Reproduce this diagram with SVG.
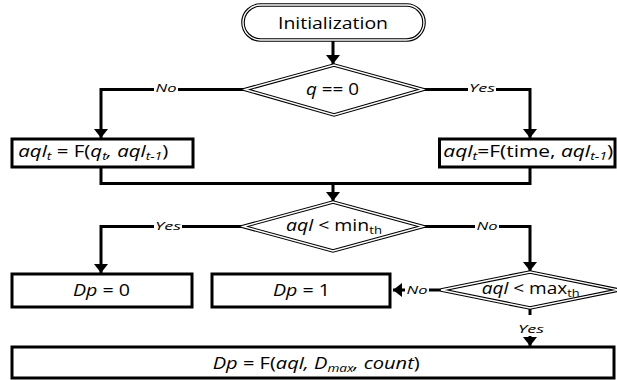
<svg xmlns="http://www.w3.org/2000/svg" width="617" height="380" viewBox="0 0 617 380">
<style>
.t{font-family:"Open Sans","DejaVu Sans",sans-serif;font-size:15.5px;fill:#000}
.lb{font-family:"Open Sans","DejaVu Sans",sans-serif;font-size:11px;font-style:italic;fill:#000;text-anchor:middle}
.i{font-style:italic}
.box{fill:#fff;stroke:#000;stroke-width:3}
.dbl1{fill:#fff;stroke:#000;stroke-width:3.6}
.dbl2{fill:none;stroke:#fff;stroke-width:1.4}
.con{fill:none;stroke:#000;stroke-width:3}
.bg{fill:#fff}
</style>
<defs>
<marker id="ah" markerUnits="userSpaceOnUse" markerWidth="14" markerHeight="14" refX="9" refY="7" orient="auto" viewBox="0 0 14 14">
<path d="M0,0 L9,7 L0,14 Z" fill="#000"/>
</marker>
</defs>
<g id="connectors">
<path class="con" d="M333,40 V64" marker-end="url(#ah)"/>
<path class="con" d="M245,89.5 H101 V138" marker-end="url(#ah)"/>
<path class="con" d="M423,89.5 H530 V138" marker-end="url(#ah)"/>
<path class="con" d="M101,167 V183.5 H530 V167"/>
<path class="con" d="M333,183.5 V201" marker-end="url(#ah)"/>
<path class="con" d="M243,226.5 H101 V273" marker-end="url(#ah)"/>
<path class="con" d="M423,226.5 H530 V271" marker-end="url(#ah)"/>
<path class="con" d="M441,290 H393" marker-end="url(#ah)"/>
<path class="con" d="M530,306 V346" marker-end="url(#ah)"/>
<rect class="bg" x="154" y="83" width="24" height="12"/>
<text class="lb" x="166" y="92" textLength="21" lengthAdjust="spacingAndGlyphs">No</text>
<rect class="bg" x="468" y="83" width="28" height="12"/>
<text class="lb" x="482" y="92" textLength="26" lengthAdjust="spacingAndGlyphs">Yes</text>
<rect class="bg" x="154" y="220" width="28" height="12"/>
<text class="lb" x="168" y="229.5" textLength="26" lengthAdjust="spacingAndGlyphs">Yes</text>
<rect class="bg" x="475" y="220" width="24" height="12"/>
<text class="lb" x="487" y="229.5" textLength="21" lengthAdjust="spacingAndGlyphs">No</text>
<rect class="bg" x="405" y="284" width="24" height="12"/>
<text class="lb" x="417" y="293.5" textLength="21" lengthAdjust="spacingAndGlyphs">No</text>
<rect class="bg" x="516" y="315" width="30" height="21"/>
<text class="lb" x="531" y="333" textLength="26" lengthAdjust="spacingAndGlyphs">Yes</text>
</g>
<g id="init">
<rect class="dbl1" x="243" y="5" width="181" height="35" rx="17.5"/>
<rect class="dbl2" x="243" y="5" width="181" height="35" rx="17.5"/>
<text class="t" x="333" y="28.5" text-anchor="middle" textLength="110" lengthAdjust="spacingAndGlyphs">Initialization</text>
</g>
<g id="dec-q">
<polygon class="dbl1" points="245,89.5 334,65 423,89.5 334,115"/>
<polygon class="dbl2" points="245,89.5 334,65 423,89.5 334,115"/>
<text class="t" x="306" y="94.5" textLength="53" lengthAdjust="spacingAndGlyphs"><tspan class="i">q</tspan> == 0</text>
</g>
<g id="box-left">
<rect class="box" x="12" y="139" width="181" height="28"/>
<text class="t" x="18.3" y="157.3" textLength="150" lengthAdjust="spacingAndGlyphs"><tspan class="i">aql</tspan><tspan class="i" font-size="10.5" dy="3">t</tspan><tspan dy="-3"> = F(</tspan><tspan class="i">q</tspan><tspan class="i" font-size="10.5" dy="3">t</tspan><tspan class="i" dy="-3">, aql</tspan><tspan class="i" font-size="10.5" dy="3">t-1</tspan><tspan dy="-3">)</tspan></text>
</g>
<g id="box-right">
<rect class="box" x="439.5" y="139" width="175.5" height="28"/>
<text class="t" x="443.3" y="157.3" textLength="170" lengthAdjust="spacingAndGlyphs"><tspan class="i">aql</tspan><tspan class="i" font-size="10.5" dy="3">t</tspan><tspan dy="-3">=F(time, </tspan><tspan class="i">aql</tspan><tspan class="i" font-size="10.5" dy="3">t-1</tspan><tspan dy="-3">)</tspan></text>
</g>
<g id="dec-min">
<polygon class="dbl1" points="243,226.5 333,202 423,226.5 333,251"/>
<polygon class="dbl2" points="243,226.5 333,202 423,226.5 333,251"/>
<text class="t" x="286" y="231" textLength="96" lengthAdjust="spacingAndGlyphs"><tspan class="i">aql</tspan> &lt; min<tspan font-size="10.5" dy="3">th</tspan></text>
</g>
<g id="box-dp0">
<rect class="box" x="12" y="274" width="180" height="33"/>
<text class="t" x="73" y="296" textLength="57" lengthAdjust="spacingAndGlyphs"><tspan class="i">Dp</tspan> = 0</text>
</g>
<g id="box-dp1">
<rect class="box" x="212" y="274" width="178" height="33"/>
<text class="t" x="273" y="296" textLength="57" lengthAdjust="spacingAndGlyphs"><tspan class="i">Dp</tspan> = 1</text>
</g>
<g id="dec-max">
<polygon class="dbl1" points="441,290 530,272 619,290 530,308"/>
<polygon class="dbl2" points="441,290 530,272 619,290 530,308"/>
<text class="t" x="481.7" y="294.3" textLength="98" lengthAdjust="spacingAndGlyphs"><tspan class="i">aql</tspan> &lt; max<tspan font-size="10.5" dy="3">th</tspan></text>
</g>
<g id="box-final">
<rect class="box" x="12" y="347" width="602" height="31"/>
<text class="t" x="212.7" y="369" textLength="207" lengthAdjust="spacingAndGlyphs"><tspan class="i">Dp</tspan> = F(<tspan class="i">aql, D</tspan><tspan class="i" font-size="10.5" dy="3">max</tspan><tspan class="i" dy="-3">, count</tspan>)</text>
</g>
</svg>
